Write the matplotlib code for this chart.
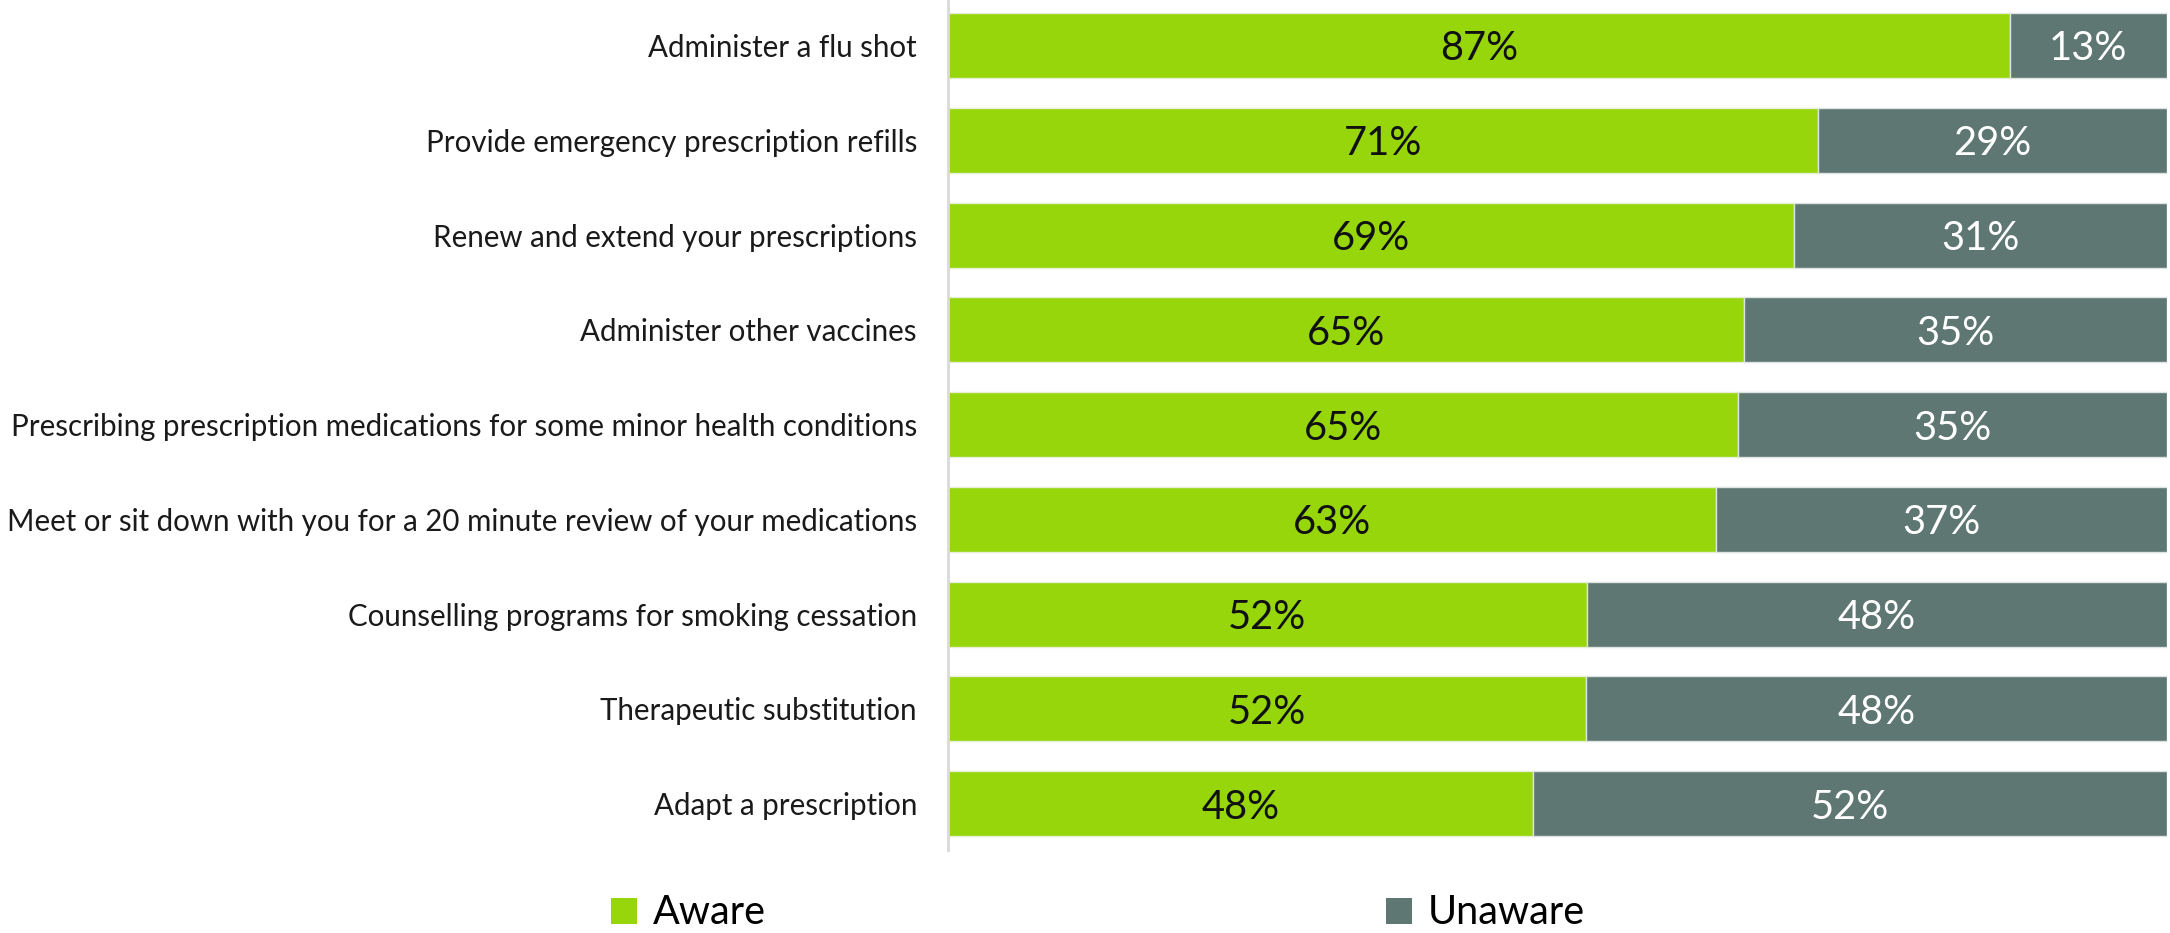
import matplotlib
matplotlib.use('Agg')
import matplotlib.pyplot as plt
from matplotlib import font_manager as fm
from matplotlib.patches import Patch

categories = [
    "Administer a flu shot",
    "Provide emergency prescription refills",
    "Renew and extend your prescriptions",
    "Administer other vaccines",
    "Prescribing prescription medications for some minor health conditions",
    "Meet or sit down with you for a 20 minute review of your medications",
    "Counselling programs for smoking cessation",
    "Therapeutic substitution",
    "Adapt a prescription",
]
aware = [87.1, 71.4, 69.4, 65.3, 64.8, 63.0, 52.4, 52.3, 48.0]
unaware = [12.9, 28.6, 30.6, 34.7, 35.2, 37.0, 47.6, 47.7, 52.0]
series_names = ["Aware", "Unaware"]

GREEN = '#96D60A'
GRAY = '#5E7773'

avail = {f.name for f in fm.fontManager.ttflist}
family = next(f for f in ['Lato', 'Open Sans', 'Noto Sans', 'DejaVu Sans'] if f in avail)
plt.rcParams['font.family'] = [family, 'DejaVu Sans']

W, H = 2170, 933
fig = plt.figure(figsize=(W / 100, H / 100), dpi=100)
renderer = fig.canvas.get_renderer()


def measure(text):
    t = fig.text(0, 0, text, fontsize=10)
    w = t.get_window_extent(renderer).width
    t.remove()
    return w


def fit(text, target_px):
    return 10 * target_px / measure(text)


widest = max(categories, key=measure)
lab_fs = fit(widest, 914)
num_fs = fit("87%", 78)
leg_fs = fit("Aware", 113)

ax = fig.add_axes([948 / W, (H - 850) / H, (2167 - 948) / W, 850 / H])
y = list(range(len(categories)))
b1 = ax.barh(y, aware, height=0.686, color=GREEN, edgecolor='#e6efd6', linewidth=1)
b2 = ax.barh(y, unaware, left=aware, height=0.686, color=GRAY, edgecolor='#dde3e2', linewidth=1)
ax.set_xlim(0, 100)
ax.set_ylim(8.49, -0.48)

for i in y:
    ax.text(aware[i] / 2, i, f"{round(aware[i])}%", ha='center', va='center_baseline',
            fontsize=num_fs, color='#111111')
    ax.text(aware[i] + unaware[i] / 2, i, f"{round(unaware[i])}%", ha='center',
            va='center_baseline', fontsize=num_fs, color='white')

ax.set_yticks(y)
ax.set_yticklabels(categories, fontsize=lab_fs, color='#1a1a1a')
ax.tick_params(axis='y', length=0, pad=31 * 72 / 100)
ax.set_xticks([])
for s in ['top', 'right', 'bottom']:
    ax.spines[s].set_visible(False)
ax.spines['left'].set_color('#d9d9d9')
ax.spines['left'].set_linewidth(2)

fs_px = leg_fs * 100 / 72
for name, col, x0 in [(series_names[0], GREEN, 611), (series_names[1], GRAY, 1386)]:
    fig.legend([Patch(facecolor=col, edgecolor='none')], [name], loc='center left',
               bbox_to_anchor=(x0 / W, 1 - 913 / H), frameon=False, fontsize=leg_fs,
               borderpad=0, borderaxespad=0, handlelength=26 / fs_px,
               handleheight=25 / fs_px, handletextpad=16 / fs_px)

fig.savefig('out.png', dpi=100)
